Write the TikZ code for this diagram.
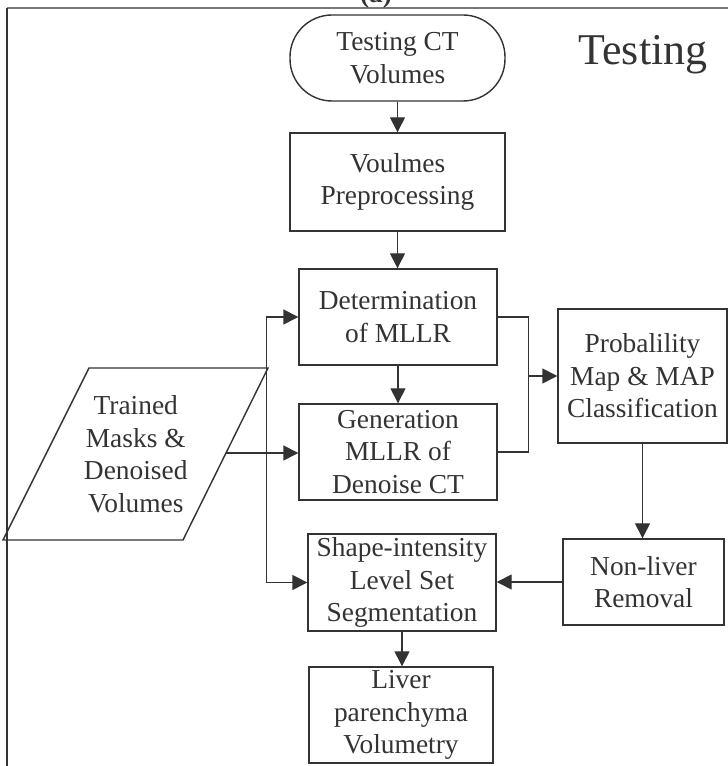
\documentclass[tikz,border=0pt]{standalone}
\usepackage{fontspec}
\setmainfont{Liberation Serif}
\usepackage{tikz}
\usetikzlibrary{arrows.meta,shapes,positioning,calc}
\usepackage{xcolor}
\definecolor{dfgray}{RGB}{51,51,51}
\definecolor{dfframe}{RGB}{120,120,120}
\tikzstyle{arrow} = [line width=0.8pt,-{Triangle[length=0.3cm,width=0.3cm]},color=dfgray]
\tikzstyle{line} = [line width=0.8pt,color=dfgray]
\tikzstyle{procbox} = [rectangle, draw=dfgray, line width=0.8pt, text=dfgray, align=center, inner sep=1pt, font=\fontsize{15.6}{18.5}\selectfont]

\begin{document}
\begin{tikzpicture}
\path[use as bounding box, clip] (0,0) rectangle (14.56,15.32);

% Frame
\draw[line width=1.2pt, dfframe] (0.14,15.16) -- (14.56,15.16);
\draw[line width=1.2pt, dfgray] (0.14,0) -- (0.14,15.16);
\node[anchor=base, font=\fontsize{15.6}{18}\selectfont\bfseries, text=dfgray] (label) at (7.52,15.27) {(a)};
\node[anchor=base, font=\fontsize{25}{29}\selectfont, text=dfgray] (title) at (12.86,14.02) {Testing};

% Main column
\node[procbox, rounded corners=0.84cm, minimum width=4.3cm, minimum height=1.72cm] (start) at (7.95,14.16) {Testing CT\\Volumes};
\node[procbox, minimum width=4.3cm, minimum height=1.96cm] (prep) at (7.95,11.68) {Voulmes\\Preprocessing};
\node[procbox, minimum width=3.96cm, minimum height=1.92cm] (determ) at (7.96,8.98) {Determination\\of MLLR};
\node[procbox, minimum width=3.96cm, minimum height=1.92cm] (gen) at (7.96,6.28) {Generation\\MLLR of\\Denoise CT};
\node[procbox, minimum width=3.76cm, minimum height=1.94cm] (shape) at (8.04,3.67) {Shape-intensity\\Level Set\\Segmentation};
\node[procbox, minimum width=3.68cm, minimum height=1.92cm] (liver) at (8.02,1.02) {Liver\\parenchyma\\Volumetry};

% Right column
\node[procbox, minimum width=3.38cm, minimum height=2.68cm] (prob) at (12.85,7.8) {Probalility\\Map \& MAP\\Classification};
\node[procbox, minimum width=3.22cm, minimum height=1.72cm] (nonliver) at (12.87,3.68) {Non-liver\\Removal};

% Trained data
\node[procbox, draw=none] (trained) at (2.715,6.24) {Trained\\Masks \&\\Denoised\\Volumes};
\draw[line] (0.06,4.52) -- (1.78,7.96) -- (5.36,7.96) -- (3.66,4.52) -- cycle;
\coordinate (trainedR) at (4.51,6.26);

% Connections
\draw[arrow] (start) -- (prep);
\draw[arrow] (prep.south) -- (prep.south |- determ.north);
\draw[arrow] (determ) -- (gen);
\draw[arrow] (trainedR) -- (trainedR -| gen.west);
\coordinate (bus) at ($(trainedR -| gen.west)+(-0.64,0)$);
\draw[arrow] (bus) |- (determ.west);
\draw[arrow] (bus) |- (shape.west);
\coordinate (merge) at ($(prob.west)+(-0.58,0)$);
\draw[line] (determ.east) -| (merge) |- (gen.east);
\draw[arrow] (merge) -- (prob.west);
\draw[arrow] (prob.south) -- (prob.south |- nonliver.north);
\draw[arrow] (nonliver.west) -- (nonliver.west -| shape.east);
\draw[arrow] (shape.south) -- (shape.south |- liver.north);
\end{tikzpicture}
\end{document}
